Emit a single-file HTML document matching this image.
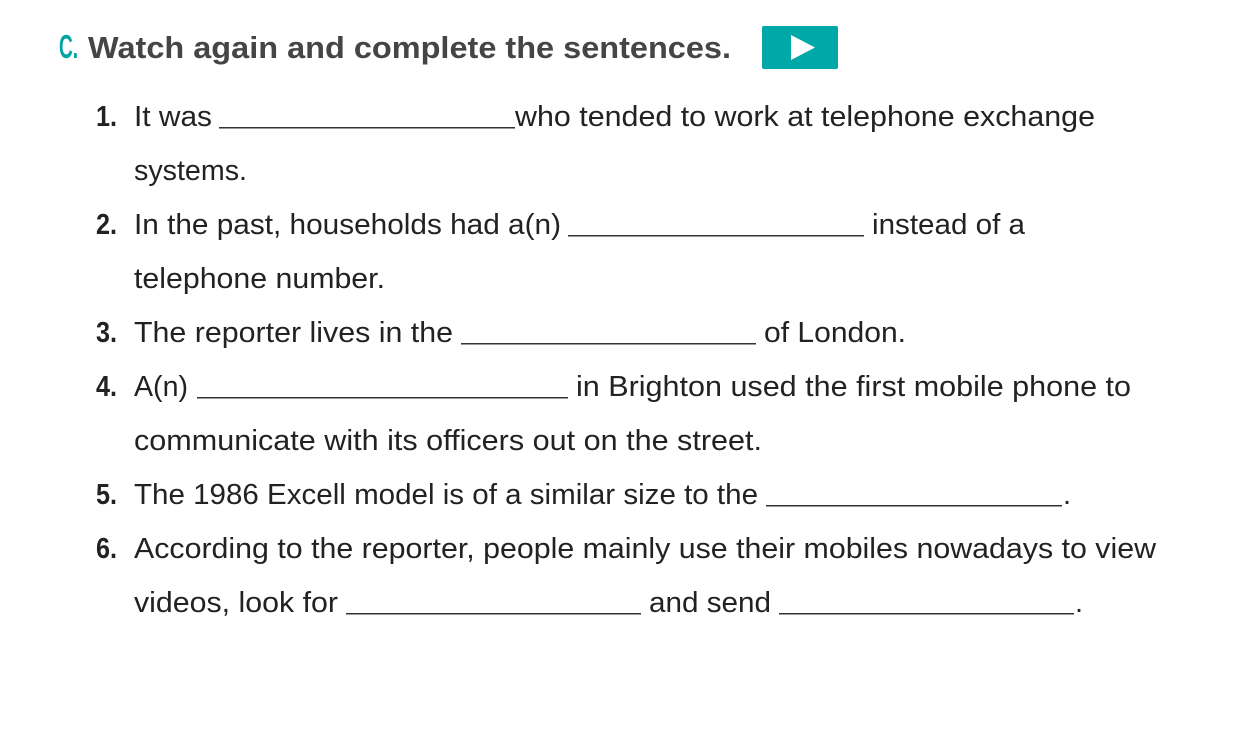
<!DOCTYPE html>
<html><head><meta charset="utf-8"><style>
html,body{margin:0;padding:0;background:#fff;width:1235px;height:740px;overflow:hidden}
svg text{font-family:"Liberation Sans",sans-serif}
</style></head><body>
<svg width="1235" height="740">
<text x="59" y="58" font-size="33" font-weight="bold" fill="#00a3a3" textLength="19" lengthAdjust="spacingAndGlyphs">C.</text>
<text x="88" y="58" font-size="31" font-weight="bold" fill="#454545" textLength="643" lengthAdjust="spacingAndGlyphs">Watch again and complete the sentences.</text>
<g>
<rect x="762" y="26" width="76" height="43" rx="2" fill="#00a8a8"/>
<polygon points="791,35 791,60 815,47.5" fill="#fff"/>
</g>
<g id="lines" fill="#222" font-size="29"></g>
</svg>
<script>
const rows=[
 [126,"1.",[["t",134,212,"It was"],["b",219,515],["t",515,1095,"who tended to work at telephone exchange"]]],
 [180,null,[["t",134,247,"systems."]]],
 [234,"2.",[["t",134,561,"In the past, households had a(n)"],["b",568,864],["t",872,1025,"instead of a"]]],
 [288,null,[["t",134,385,"telephone number."]]],
 [342,"3.",[["t",134,453,"The reporter lives in the"],["b",461,756],["t",764,906,"of London."]]],
 [396,"4.",[["t",134,188,"A(n)"],["b",197,568],["t",576,1131,"in Brighton used the first mobile phone to"]]],
 [450,null,[["t",134,762,"communicate with its officers out on the street."]]],
 [504,"5.",[["t",134,758,"The 1986 Excell model is of a similar size to the"],["b",766,1062],["t",1063,1068,"."]]],
 [558,"6.",[["t",134,1156,"According to the reporter, people mainly use their mobiles nowadays to view"]]],
 [612,null,[["t",134,338,"videos, look for"],["b",346,641],["t",649,771,"and send"],["b",779,1074],["t",1075,1080,"."]]]
];
const g=document.getElementById('lines');const NS="http://www.w3.org/2000/svg";
rows.forEach(([y,num,segs],i)=>{
 if(num){const n=document.createElementNS(NS,'text');n.setAttribute('x',96);n.setAttribute('y',y);n.setAttribute('font-weight','bold');n.setAttribute('textLength',21);n.setAttribute('lengthAdjust','spacingAndGlyphs');n.textContent=num;
 
 
 g.appendChild(n);}
 segs.forEach(s=>{
  if(s[0]==="t"){const t=document.createElementNS(NS,'text');t.setAttribute('x',s[1]);t.setAttribute('y',y);
   if(s[3].length>1){t.setAttribute('textLength',s[2]-s[1]);t.setAttribute('lengthAdjust','spacingAndGlyphs');}
   t.textContent=s[3];
   
   
   g.appendChild(t);}
  else{const r=document.createElementNS(NS,'rect');r.setAttribute('x',s[1]);r.setAttribute('y',y+1);r.setAttribute('width',s[2]-s[1]);r.setAttribute('height',1.5);r.setAttribute('fill','#333');
   
   
   g.appendChild(r);}
 });
});
</script>
</body></html>
